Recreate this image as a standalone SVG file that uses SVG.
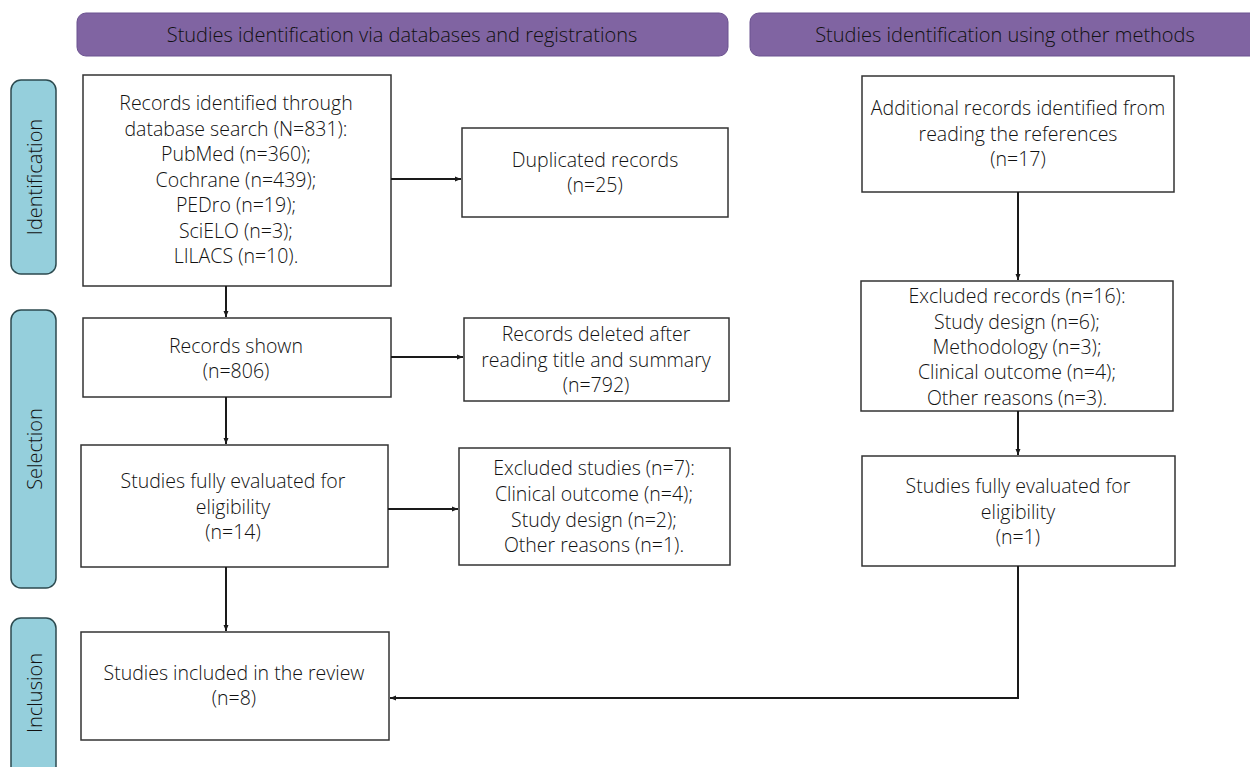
<svg xmlns="http://www.w3.org/2000/svg" width="1250" height="767" viewBox="0 0 1250 767">
<style>
text{font-family:"Open Sans","Liberation Sans",sans-serif;font-weight:300;fill:#111;}
.hdr rect{fill:#8064a2;stroke:#6b5290;stroke-width:1}
.hdr text{font-size:20px;}
.side rect{fill:#95cfdc;stroke:#2c4a4f;stroke-width:1.5}
.side text{font-size:20px;}
.box rect{fill:#fff;stroke:#333;stroke-width:1.5}
.box text{font-size:19.5px;text-anchor:middle}
.conn line,.conn polyline{stroke:#1a1a1a;stroke-width:2;fill:none}
</style>
<defs>
<marker id="ah" viewBox="0 0 6 6" refX="6" refY="3" markerWidth="6" markerHeight="6" orient="auto" markerUnits="userSpaceOnUse">
<path d="M0,0.5 L6,3 L0,5.5 z" fill="#1a1a1a"/>
</marker>
</defs>
<rect width="1250" height="767" fill="#fff"/>
<g id="hdr1" class="hdr"><rect x="77" y="13" width="651" height="43" rx="9"/><text x="402" y="42" text-anchor="middle">Studies identification via databases and registrations</text></g>
<g id="hdr2" class="hdr"><rect x="750" y="13" width="510" height="43" rx="9"/><text x="1005" y="42" text-anchor="middle">Studies identification using other methods</text></g>
<g id="side1" class="side"><rect x="11" y="80" width="45" height="194" rx="10"/><text transform="translate(42,177) rotate(-90)" text-anchor="middle">Identification</text></g>
<g id="side2" class="side"><rect x="11" y="310" width="45" height="278" rx="10"/><text transform="translate(42,449) rotate(-90)" text-anchor="middle">Selection</text></g>
<g id="side3" class="side"><rect x="11" y="618" width="45" height="170" rx="10"/><text transform="translate(42,693) rotate(-90)" text-anchor="middle">Inclusion</text></g>
<g id="n1" class="box"><rect x="83" y="75" width="308" height="211"/>
<text x="236"><tspan x="236" y="110">Records identified through</tspan><tspan x="236" y="136">database search (N=831):</tspan><tspan x="236" y="161">PubMed (n=360);</tspan><tspan x="236" y="187">Cochrane (n=439);</tspan><tspan x="236" y="212">PEDro (n=19);</tspan><tspan x="236" y="238">SciELO (n=3);</tspan><tspan x="236" y="263">LILACS (n=10).</tspan></text></g>
<g id="n2" class="box"><rect x="462" y="128" width="266" height="89"/>
<text><tspan x="595" y="167">Duplicated records</tspan><tspan x="595" y="192">(n=25)</tspan></text></g>
<g id="n3" class="box"><rect x="83" y="318" width="308" height="79"/>
<text><tspan x="236" y="353">Records shown</tspan><tspan x="236" y="378">(n=806)</tspan></text></g>
<g id="n4" class="box"><rect x="464" y="318" width="265" height="83"/>
<text><tspan x="596" y="341">Records deleted after</tspan><tspan x="596" y="367">reading title and summary</tspan><tspan x="596" y="392">(n=792)</tspan></text></g>
<g id="n5" class="box"><rect x="81" y="445" width="307" height="122"/>
<text><tspan x="233" y="488">Studies fully evaluated for</tspan><tspan x="233" y="514">eligibility</tspan><tspan x="233" y="539">(n=14)</tspan></text></g>
<g id="n6" class="box"><rect x="459" y="448" width="271" height="117"/>
<text><tspan x="594" y="475">Excluded studies (n=7):</tspan><tspan x="594" y="501">Clinical outcome (n=4);</tspan><tspan x="594" y="527">Study design (n=2);</tspan><tspan x="594" y="552">Other reasons (n=1).</tspan></text></g>
<g id="n7" class="box"><rect x="81" y="632" width="308" height="108"/>
<text><tspan x="234" y="680">Studies included in the review</tspan><tspan x="234" y="705">(n=8)</tspan></text></g>
<g id="n8" class="box"><rect x="862" y="76" width="312" height="116"/>
<text><tspan x="1018" y="115">Additional records identified from</tspan><tspan x="1018" y="141">reading the references</tspan><tspan x="1018" y="166">(n=17)</tspan></text></g>
<g id="n9" class="box"><rect x="861" y="281" width="312" height="130"/>
<text><tspan x="1017" y="303">Excluded records (n=16):</tspan><tspan x="1017" y="329">Study design (n=6);</tspan><tspan x="1017" y="354">Methodology (n=3);</tspan><tspan x="1017" y="379">Clinical outcome (n=4);</tspan><tspan x="1017" y="405">Other reasons (n=3).</tspan></text></g>
<g id="n10" class="box"><rect x="862" y="456" width="313" height="110"/>
<text><tspan x="1018" y="493">Studies fully evaluated for</tspan><tspan x="1018" y="519">eligibility</tspan><tspan x="1018" y="544">(n=1)</tspan></text></g>
<g id="connectors" class="conn">
<line x1="391" y1="179" x2="461" y2="179" marker-end="url(#ah)"/>
<line x1="226" y1="286" x2="226" y2="317" marker-end="url(#ah)"/>
<line x1="391" y1="357" x2="463" y2="357" marker-end="url(#ah)"/>
<line x1="226" y1="397" x2="226" y2="444" marker-end="url(#ah)"/>
<line x1="388" y1="509" x2="458" y2="509" marker-end="url(#ah)"/>
<line x1="226" y1="567" x2="226" y2="631" marker-end="url(#ah)"/>
<line x1="1018" y1="192" x2="1018" y2="280" marker-end="url(#ah)"/>
<line x1="1018" y1="411" x2="1018" y2="455" marker-end="url(#ah)"/>
<polyline points="1018,566 1018,698 390,698" marker-end="url(#ah)"/>
</g>
</svg>
